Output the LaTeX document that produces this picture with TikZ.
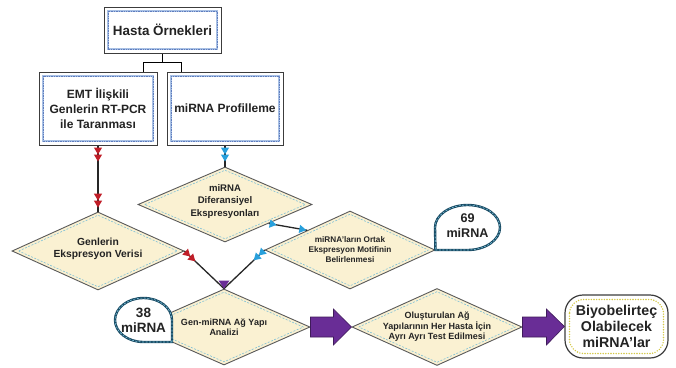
\documentclass[tikz,border=0pt]{standalone}
\usepackage{fontspec}
\setmainfont{Liberation Sans}
\usetikzlibrary{arrows.meta,calc,decorations.markings,shapes.geometric}

\definecolor{cream}{RGB}{250,241,210}
\definecolor{rimgray}{RGB}{90,90,90}
\definecolor{dashblue}{RGB}{125,192,215}
\definecolor{framegray}{RGB}{60,60,60}
\definecolor{frameblue}{RGB}{168,192,228}
\definecolor{framedot}{RGB}{95,125,190}
\definecolor{flowred}{RGB}{192,30,40}
\definecolor{flowblue}{RGB}{40,160,220}
\definecolor{flowpurple}{RGB}{105,45,150}
\definecolor{bubblerim}{RGB}{25,75,100}
\definecolor{bubbledash}{RGB}{125,195,220}
\definecolor{dotyellow}{RGB}{212,200,70}
\definecolor{ink}{RGB}{35,35,35}

\newcommand\fsz[2]{\fontsize{#1}{#2}\selectfont\bfseries}

\begin{document}
\begin{tikzpicture}[x=1pt,y=-1pt,
  framebox/.style={rectangle, draw=framegray, line width=1pt, fill=white,
    inner sep=0pt, align=center, text=ink, font=\fsz{12}{15},
    path picture={
      \draw[frameblue, line width=1.5pt]
        ([shift={(4pt,-4pt)}]path picture bounding box.north west) rectangle
        ([shift={(-4pt,4pt)}]path picture bounding box.south east);
      \draw[framedot, line width=0.5pt, dash pattern=on 0.8pt off 0.9pt]
        ([shift={(4pt,-4pt)}]path picture bounding box.north west) rectangle
        ([shift={(-4pt,4pt)}]path picture bounding box.south east);}},
  decision/.style={diamond, draw=rimgray, line width=0.9pt, fill=cream, inner sep=0pt,
    path picture={
      \draw[dashblue, line width=0.6pt, dash pattern=on 2pt off 1.5pt]
        ([xshift=6.5pt]path picture bounding box.west) --
        ([yshift=-3pt]path picture bounding box.north) --
        ([xshift=-6.5pt]path picture bounding box.east) --
        ([yshift=3pt]path picture bounding box.south) -- cycle;}},
  dtext/.style={align=center, inner sep=0pt, text=ink},
  tree/.style={draw=black, line width=1.6pt},
  conn/.style={draw=black!85, line width=1.3pt},
  tips/.style n args={3}{postaction={decorate, decoration={markings,
    mark=at position #2 with {\arrow{Triangle[length=7pt,width=8pt,color=#1]}},
    mark=at position #3 with {\arrow{Triangle[length=7pt,width=8pt,color=#1]}}}}},
  bubrim/.style={preaction={fill=white}, preaction={draw=bubblerim, line width=2.4pt},
    draw=bubbledash, line width=0.6pt, dash pattern=on 2pt off 1.5pt},
  bubtext/.style={align=center, inner sep=0pt, text=ink},
  blk/.style={fill=flowpurple, draw=flowpurple!60!black, line width=0.6pt},
  endbox/.style={rectangle, rounded corners=18pt, draw=framegray, line width=1.2pt,
    fill=white, inner sep=0pt, align=center, text=ink, font=\fsz{14.2}{16},
    path picture={
      \draw[dotyellow, line width=1.6pt, line cap=round, dash pattern=on 0pt off 2.6pt,
            rounded corners=14pt]
        ([shift={(4.5pt,-4.5pt)}]path picture bounding box.north west) rectangle
        ([shift={(-4.5pt,4.5pt)}]path picture bounding box.south east);}}
]
\useasboundingbox (0,0) rectangle (676,367);
\fill[white] (0,0) rectangle (676,367);

% top boxes
\node[framebox, minimum width=117pt, minimum height=46pt, font=\fsz{13.4}{16}]
  (hasta) at (162.5,30) {Hasta Örnekleri};
\node[framebox, minimum width=118pt, minimum height=73pt]
  (emt) at (98,108.5) {EMT İlişkili\\Genlerin RT-PCR\\ile Taranması};
\node[framebox, minimum width=116pt, minimum height=73pt]
  (prof) at (225,108.5) {miRNA Profilleme};

\coordinate (hj) at ($(hasta.south)+(0,9)$);
\draw[tree] (hasta.south) -- (hj);
\draw[tree] ([xshift=-14pt]emt.north east) |- (hj) -| ([xshift=15pt]prof.north west);

% decision steps
\node[decision, minimum width=174pt, minimum height=75pt] (dif) at (225,204.5) {};
\node[dtext, font=\fsz{9.6}{12.5}] at ([yshift=3pt]dif.center)
  {miRNA\\Diferansiyel\\Ekspresyonları};

\node[decision, minimum width=172pt, minimum height=78pt] (gen) at (98,251) {};
\node[dtext, font=\fsz{10.3}{12.3}] at ([yshift=2.5pt]gen.center)
  {Genlerin\\Ekspresyon Verisi};

\node[decision, minimum width=170pt, minimum height=78pt] (ort) at (350,250) {};
\node[dtext, font=\fsz{8.2}{10}] at (ort.center)
  {miRNA’ların Ortak\\Ekspresyon Motifinin\\Belirlenmesi};

\node[decision, minimum width=172pt, minimum height=76pt] (gm) at (224,327) {};
\node[dtext, font=\fsz{9}{10}] at ([yshift=-0.5pt]gm.center)
  {Gen-miRNA Ağ Yapı\\Analizi};

\node[decision, minimum width=170pt, minimum height=77pt] (olu) at (437,327) {};
\node[dtext, font=\fsz{9}{10.5}] at (olu.center)
  {Oluşturulan Ağ\\Yapılarının Her Hasta İçin\\Ayrı Ayrı Test Edilmesi};

\node[endbox, minimum width=103pt, minimum height=63pt] (bio) at (616.5,326.5)
  {Biyobelirteç\\Olabilecek\\miRNA’lar};

% flow connectors
\draw[conn, tips={flowred}{9pt}{16pt}, tips={flowred}{-11pt}{-4pt}] (emt.south) -- (gen.north);
\draw[conn, tips={flowblue}{9pt}{16pt}] (prof.south) -- (dif.north);
\draw[conn, tips={flowblue}{8pt}{-1pt}] (dif.south east) -- (ort.north west);

\coordinate (m) at (gm.north);
\draw[conn, tips={flowred}{8pt}{15pt}] (gen.east) -- (m);
\draw[conn, tips={flowblue}{8pt}{15pt}] (ort.west) -- (m);
\fill[flowpurple] ($(m)+(-5.5pt,8pt)$) -- ($(m)+(5.5pt,8pt)$) -- (m) -- cycle;

% block arrows
\draw[blk] ([yshift=10pt]gm.east) -- ++(23pt,0pt) -- ++(0pt,8pt) -- (olu.west)
  -- ([shift={(23pt,-18pt)}]gm.east) -- ++(0pt,8pt) -- ([yshift=-10pt]gm.east) -- cycle;
\draw[blk] ([yshift=10pt]olu.east) -- ++(24pt,0pt) -- ++(0pt,8pt) -- (bio.west)
  -- ([shift={(24pt,-18pt)}]olu.east) -- ++(0pt,8pt) -- ([yshift=-10pt]olu.east) -- cycle;

% count bubbles
\coordinate (c38) at (143.5,320);
\draw[bubrim] ($(c38)+(28.5pt,-22pt)$) -- ($(c38)+(28.5pt,0pt)$)
  arc[start angle=0, end angle=270, x radius=28.5pt, y radius=22pt] -- cycle;
\node[bubtext, font=\fsz{13.5}{15}] (b38) at (c38) {38\\miRNA};

\coordinate (c69) at (467.5,227.5);
\draw[bubrim] (ort.east) -- ($(c69)+(0pt,-22.5pt)$)
  arc[start angle=270, end angle=540, x radius=32.5pt, y radius=22.5pt] -- cycle;
\node[bubtext, font=\fsz{12.6}{15}] (b69) at ([yshift=2pt]c69) {69\\miRNA};
\end{tikzpicture}
\end{document}
